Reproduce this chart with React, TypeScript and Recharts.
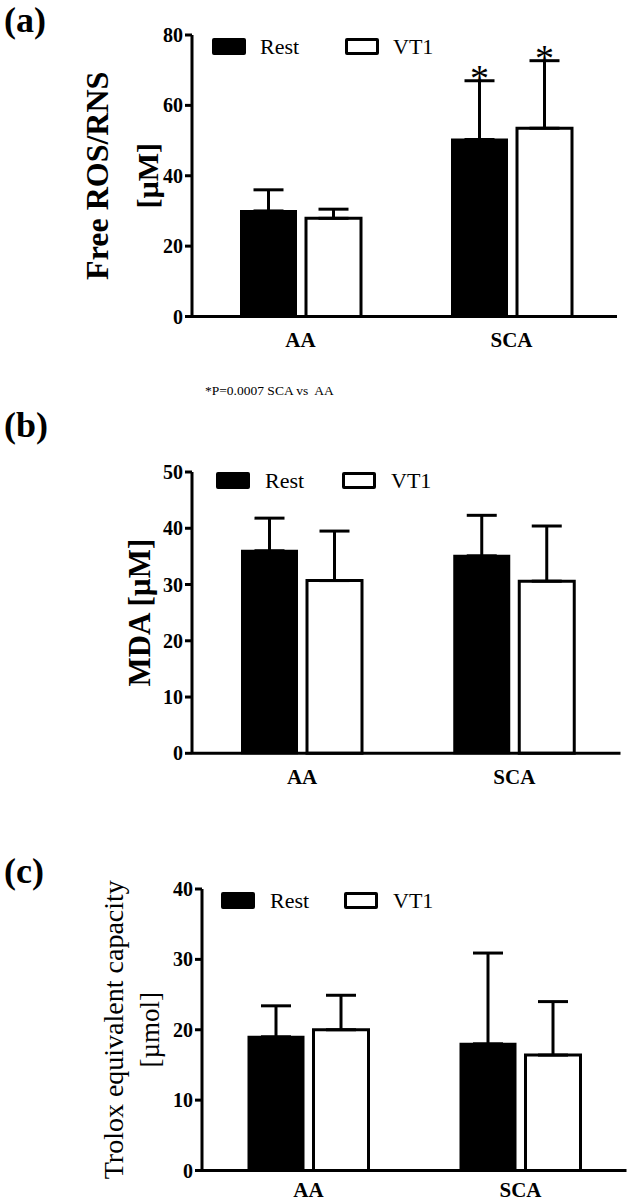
import React from "react";
import { BarChart, Bar, XAxis, YAxis, ErrorBar, Legend, LabelList } from "recharts";

const categories = ["AA", "SCA"];

// (a) Free ROS/RNS [µM]
const rosRest = [30.0, 50.3];
const rosRestErr = [6.0, 16.7];
const rosVt1 = [27.9, 53.5];
const rosVt1Err = [2.6, 19.2];
const rosSig = ["", "*"];
const rosTicks = [0, 20, 40, 60, 80];

// (b) MDA [µM]
const mdaRest = [36.0, 35.1];
const mdaRestErr = [5.8, 7.2];
const mdaVt1 = [30.7, 30.6];
const mdaVt1Err = [8.8, 9.8];
const mdaTicks = [0, 10, 20, 30, 40, 50];

// (c) Trolox equivalent capacity [µmol]
const trRest = [19.0, 18.0];
const trRestErr = [4.4, 12.9];
const trVt1 = [20.0, 16.4];
const trVt1Err = [4.9, 7.6];
const trTicks = [0, 10, 20, 30, 40];

const seriesNames = ["Rest", "VT1"];
const footnote = "*P=0.0007 SCA vs  AA";

const FONT = '"Liberation Serif", "Times New Roman", Times, serif';

function buildRows(rest: number[], restErr: number[], vt1: number[], vt1Err: number[], sig?: string[]) {
  return categories.map((c, i) => ({
    cat: c,
    rest: rest[i],
    restErr: [0, restErr[i]],
    vt1: vt1[i],
    vt1Err: [0, vt1Err[i]],
    sig: sig ? sig[i] : "",
  }));
}

const makeStar = (values: number[], errs: number[]) => (props: any) => {
  const vb = props.viewBox || props;
  const { x, y, width, height } = vb;
  const i = props.index;
  const v = props.value;
  if (!v || i == null) return null;
  const ppu = height / values[i];
  const yTop = y - errs[i] * ppu;
  return (
    <text x={x + width / 2} y={yTop + 10} textAnchor="middle" fontFamily={FONT} fontSize={38} fill="#000">
      {v}
    </text>
  );
};

const makeLegend = (cfg: { textGap: number; itemW: number }) => (props: any) => {
  const payload = props.payload || [];
  return (
    <div style={{ display: "flex", alignItems: "center", fontFamily: FONT, fontSize: 22, color: "#000", whiteSpace: "nowrap" }}>
      {payload.map((e: any, i: number) => (
        <div key={i} style={{ display: "flex", alignItems: "center", width: i === 0 ? cfg.itemW : undefined }}>
          <span
            style={{
              display: "inline-block",
              width: 34,
              height: 17,
              boxSizing: "border-box",
              border: "3px solid #000",
              borderRadius: 2,
              background: e.color || (e.payload && e.payload.fill),
            }}
          />
          <span style={{ marginLeft: cfg.textGap, lineHeight: "17px", fontFamily: FONT }}>{e.value}</span>
        </div>
      ))}
    </div>
  );
};

const makeYTitle = (lines: { text: string; x: number; size: number; weight: string }[]) => (props: any) => {
  const vb = props.viewBox;
  const cy = vb.y + vb.height / 2;
  return (
    <g>
      {lines.map((l, i) => (
        <text
          key={i}
          x={l.x}
          y={cy}
          transform={`rotate(-90, ${l.x}, ${cy})`}
          textAnchor="middle"
          dominantBaseline="central"
          fontFamily={FONT}
          fontSize={l.size}
          fontWeight={l.weight}
          fill="#000"
        >
          {l.text}
        </text>
      ))}
    </g>
  );
};

type PanelProps = {
  top: number;
  height: number;
  margin: { top: number; right: number; left: number; bottom: number };
  yWidth: number;
  xPad: number;
  xTickMargin: number;
  domain: [number, number];
  ticks: number[];
  rows: any[];
  letter: string;
  letterTop: number;
  legendPos: { left: number; top: number };
  legendCfg: { textGap: number; itemW: number };
  titleLines: { text: string; x: number; size: number; weight: string }[];
  star?: { rest: (p: any) => any; vt1: (p: any) => any };
};

function Panel(p: PanelProps) {
  return (
    <div style={{ position: "absolute", left: 0, top: p.top, width: 630, height: p.height }}>
      <div
        style={{
          position: "absolute",
          left: 4,
          top: p.letterTop,
          fontFamily: FONT,
          fontWeight: "bold",
          fontSize: 36,
          lineHeight: "38px",
          color: "#000",
        }}
      >
        {p.letter}
      </div>
      <BarChart width={630} height={p.height} data={p.rows} margin={p.margin} barSize={55} barGap={10}>
        <XAxis
          dataKey="cat"
          height={30}
          padding={{ left: p.xPad, right: 0 }}
          tickLine={false}
          tickSize={0}
          tickMargin={p.xTickMargin}
          axisLine={{ stroke: "#000", strokeWidth: 3 }}
          tick={{ fontFamily: FONT, fontSize: 21, fontWeight: "bold", fill: "#000" }}
        />
        <YAxis
          width={p.yWidth}
          domain={p.domain}
          ticks={p.ticks}
          interval={0}
          tickSize={7}
          tickMargin={2}
          axisLine={{ stroke: "#000", strokeWidth: 3 }}
          tickLine={{ stroke: "#000", strokeWidth: 3 }}
          tick={{ fontFamily: FONT, fontSize: 20, fontWeight: "bold", fill: "#000" }}
          label={{ content: makeYTitle(p.titleLines) }}
        />
        <Legend
          verticalAlign="middle"
          align="center"
          layout="horizontal"
          wrapperStyle={{ left: p.legendPos.left, top: p.legendPos.top, width: "auto", height: "auto" }}
          content={makeLegend(p.legendCfg)}
        />
        <Bar dataKey="rest" name={seriesNames[0]} fill="#000" stroke="#000" strokeWidth={2} isAnimationActive={false}>
          <ErrorBar dataKey="restErr" width={15} stroke="#000" strokeWidth={3} direction="y" />
          {p.star ? <LabelList dataKey="sig" content={p.star.rest} /> : null}
        </Bar>
        <Bar dataKey="vt1" name={seriesNames[1]} fill="#fff" stroke="#000" strokeWidth={3} isAnimationActive={false}>
          <ErrorBar dataKey="vt1Err" width={15} stroke="#000" strokeWidth={3} direction="y" />
          {p.star ? <LabelList dataKey="sig" content={p.star.vt1} /> : null}
        </Bar>
      </BarChart>
    </div>
  );
}

export default function App() {
  const rowsA = buildRows(rosRest, rosRestErr, rosVt1, rosVt1Err, rosSig);
  const rowsB = buildRows(mdaRest, mdaRestErr, mdaVt1, mdaVt1Err);
  const rowsC = buildRows(trRest, trRestErr, trVt1, trVt1Err);
  return (
    <div style={{ position: "absolute", left: 0, top: 0, width: 630, height: 1202, background: "#fff", overflow: "hidden" }}>
      <Panel
        top={0}
        height={360}
        margin={{ top: 35, right: 13, left: 0, bottom: 13.5 }}
        yWidth={192}
        xPad={3}
        xTickMargin={16}
        domain={[0, 80]}
        ticks={rosTicks}
        rows={rowsA}
        letter="(a)"
        letterTop={1}
        legendPos={{ left: 212, top: 38 }}
        legendCfg={{ textGap: 14, itemW: 133 }}
        titleLines={[
          { text: "Free ROS/RNS", x: 97, size: 32, weight: "bold" },
          { text: "[µM]", x: 147, size: 30, weight: "bold" },
        ]}
        star={{ rest: makeStar(rosRest, rosRestErr), vt1: makeStar(rosVt1, rosVt1Err) }}
      />
      <div style={{ position: "absolute", left: 205, top: 383, fontFamily: FONT, fontSize: 13.5, lineHeight: "16px", color: "#000", whiteSpace: "pre" }}>
        {footnote}
      </div>
      <Panel
        top={400}
        height={400}
        margin={{ top: 72, right: 9.5, left: 0, bottom: 16.7 }}
        yWidth={192}
        xPad={4}
        xTickMargin={16}
        domain={[0, 50]}
        ticks={mdaTicks}
        rows={rowsB}
        letter="(b)"
        letterTop={6}
        legendPos={{ left: 216, top: 72 }}
        legendCfg={{ textGap: 15, itemW: 126 }}
        titleLines={[{ text: "MDA [µM]", x: 140, size: 31, weight: "bold" }]}
      />
      <Panel
        top={800}
        height={402}
        margin={{ top: 89, right: 3.5, left: 0, bottom: 1.5 }}
        yWidth={202}
        xPad={0.5}
        xTickMargin={12}
        domain={[0, 40]}
        ticks={trTicks}
        rows={rowsC}
        letter="(c)"
        letterTop={52}
        legendPos={{ left: 221, top: 92 }}
        legendCfg={{ textGap: 15, itemW: 123 }}
        titleLines={[
          { text: "Trolox equivalent capacity", x: 113, size: 28, weight: "normal" },
          { text: "[µmol]", x: 150, size: 27, weight: "normal" },
        ]}
      />
    </div>
  );
}
